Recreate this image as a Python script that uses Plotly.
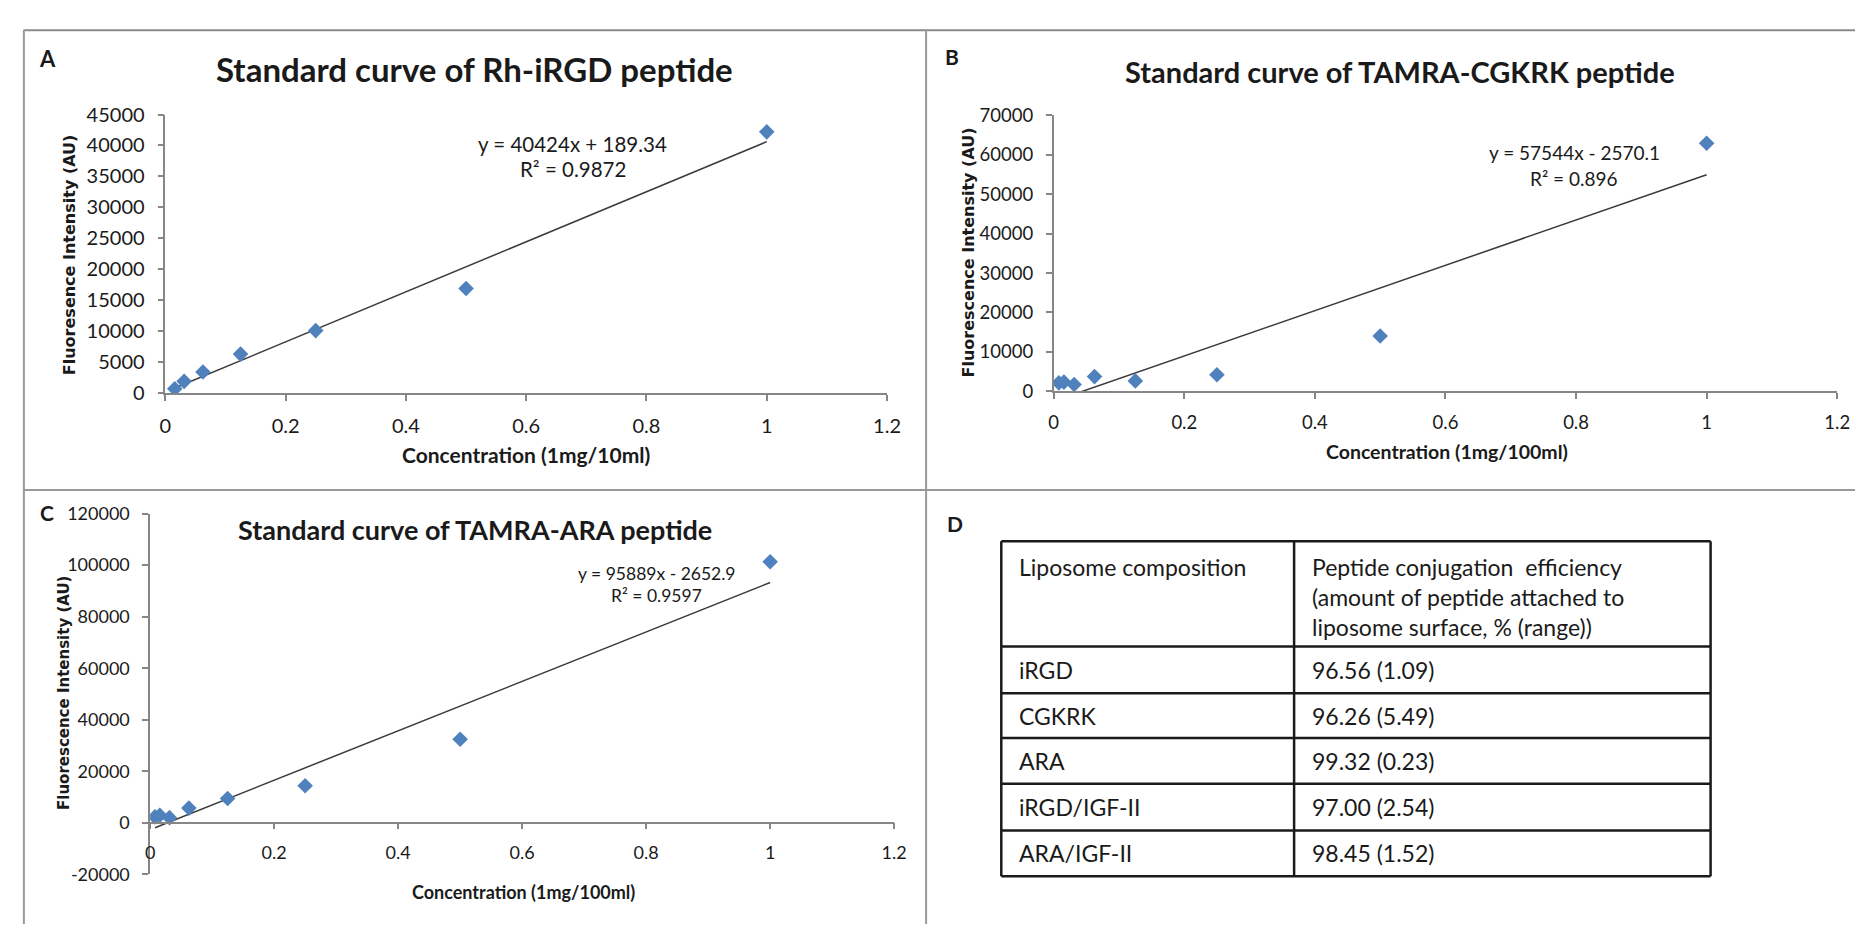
import plotly.graph_objects as go

W, H = 1863, 927

# ---------------- data ----------------
conc_A = [0.015625, 0.03125, 0.0625, 0.125, 0.25, 0.5, 1.0]
fluor_A = [700, 1900, 3400, 6300, 10100, 16900, 42200]
slope_A, intercept_A = 40424, 189.34
r2_A = 0.9872
y_ticks_A = [0, 5000, 10000, 15000, 20000, 25000, 30000, 35000, 40000, 45000]

conc_B = [0.0078125, 0.015625, 0.03125, 0.0625, 0.125, 0.25, 0.5, 1.0]
fluor_B = [2100, 2300, 1700, 3700, 2600, 4150, 14000, 62950]
slope_B, intercept_B = 57544, -2570.1
r2_B = 0.896
y_ticks_B = [0, 10000, 20000, 30000, 40000, 50000, 60000, 70000]

conc_C = [0.0078125, 0.015625, 0.03125, 0.0625, 0.125, 0.25, 0.5, 1.0]
fluor_C = [2300, 2900, 2000, 5700, 9400, 14400, 32400, 101300]
slope_C, intercept_C = 95889, -2652.9
r2_C = 0.9597
y_ticks_C = [-20000, 0, 20000, 40000, 60000, 80000, 100000, 120000]

x_ticks = [0, 0.2, 0.4, 0.6, 0.8, 1, 1.2]
x_tick_labels = ["0", "0.2", "0.4", "0.6", "0.8", "1", "1.2"]

table_header = ["Liposome composition",
                "Peptide conjugation\u00a0 efficiency<br>(amount of peptide attached to<br>liposome surface, % (range))"]
table_col1 = ["iRGD", "CGKRK", "ARA", "iRGD/IGF-II", "ARA/IGF-II"]
table_col2 = ["96.56 (1.09)", "96.26 (5.49)", "99.32 (0.23)", "97.00 (2.54)", "98.45 (1.52)"]

# ---------------- helpers ----------------
def px(x):
    return x / W

def py(y):
    return 1 - y / H

FONT = "Lato, Liberation Sans, Arial, sans-serif"
YT_FONT = "DejaVu Sans, Verdana, sans-serif"
MARK = "#4F81BD"
AXC = "#868686"
TXT = "#1a1a1a"

fig = go.Figure()

panels = [
    dict(key="", xs=conc_A, ys=fluor_A, m=slope_A, b=intercept_A),
    dict(key="2", xs=conc_B, ys=fluor_B, m=slope_B, b=intercept_B),
    dict(key="3", xs=conc_C, ys=fluor_C, m=slope_C, b=intercept_C),
]

for p in panels:
    xa = "x" + p["key"]
    ya = "y" + p["key"]
    xs = p["xs"]
    x_line = [min(xs), max(xs)]
    y_line = [p["m"] * v + p["b"] for v in x_line]
    fig.add_trace(go.Scatter(x=x_line, y=y_line, mode="lines",
                             line=dict(color="#3a3a3a", width=1.5),
                             xaxis=xa, yaxis=ya, showlegend=False, hoverinfo="skip"))
    fig.add_trace(go.Scatter(x=xs, y=p["ys"], mode="markers",
                             marker=dict(symbol="diamond", size=12, color=MARK,
                                         line=dict(width=0)),
                             xaxis=xa, yaxis=ya, showlegend=False))

def xaxis_cfg(dom, anchor, tsize, position=None):
    d = dict(domain=dom, range=[0, 1.2], tickvals=x_ticks, ticktext=x_tick_labels,
             showline=True, linecolor=AXC, linewidth=1.5, ticks="outside",
             ticklen=6, tickcolor=AXC, tickwidth=1.5, showgrid=False, zeroline=False,
             tickfont=dict(family=FONT, size=tsize, color=TXT),
             ticklabelstandoff=8, fixedrange=True)
    if position is not None:
        d["anchor"] = "free"
        d["position"] = position
    else:
        d["anchor"] = anchor
    return d

def yaxis_cfg(dom, anchor, ticks, tsize):
    return dict(domain=dom, anchor=anchor, range=[ticks[0], ticks[-1]],
                tickvals=ticks, ticktext=[str(t) for t in ticks],
                showline=True, linecolor=AXC, linewidth=1.5, ticks="outside",
                ticklen=6, tickcolor=AXC, tickwidth=1.5, showgrid=False, zeroline=False,
                tickfont=dict(family=FONT, size=tsize, color=TXT),
                ticklabelstandoff=9, fixedrange=True)

fig.update_layout(
    xaxis=xaxis_cfg([px(153), px(882.5)], "y", 20),
    yaxis=yaxis_cfg([py(382), py(96)], "x", y_ticks_A, 20),
    xaxis2=xaxis_cfg([px(1051), px(1843)], "y2", 18.5),
    yaxis2=yaxis_cfg([py(380), py(97)], "x2", y_ticks_B, 18.5),
    xaxis3=xaxis_cfg([px(137.6), px(889.7)], "y3", 18, position=py(823)),
    yaxis3=yaxis_cfg([py(876), py(505.7)], "x3", y_ticks_C, 18),
)

# ---------------- text ----------------
ann = []
def add_text(text, x, y, size, bold=False, family=FONT, angle=0, color=TXT, xanchor="center"):
    ann.append(dict(text=("<b>%s</b>" % text) if bold else text, x=px(x), y=py(y),
                    xref="paper", yref="paper", showarrow=False, textangle=angle,
                    xanchor=xanchor, yanchor="middle", align="left",
                    font=dict(family=family, size=size, color=color)))

add_text("A", 34, 38, 22, True)
add_text("B", 948, 36, 21, True)
add_text("C", 33, 505, 21, True)
add_text("D", 951, 516, 21, True)

add_text("Standard curve of Rh-iRGD peptide", 465, 49, 33, True)
add_text("Standard curve of TAMRA-CGKRK peptide", 1401, 52, 29, True)
add_text("Standard curve of TAMRA-ARA peptide", 465.6, 521.7, 27, True)

add_text("Concentration (1mg/10ml)", 518, 445, 21, True)
add_text("Concentration (1mg/100ml)", 1449, 442, 19.5, True)
add_text("Concentration (1mg/100ml)", 514.6, 894, 18, True)

add_text("Fluoresence Intensity (AU)", 56, 240, 16, True, YT_FONT, -90)
add_text("Fluorescence Intensity (AU)", 965, 238, 16, True, YT_FONT, -90)
add_text("Fluorescence Intensity (AU)", 50.4, 690, 15, True, YT_FONT, -90)

def eq_text(m, b):
    sign = "+" if b >= 0 else "-"
    return "y = %dx %s %s" % (m, sign, ("%g" % abs(b)))

add_text(eq_text(slope_A, intercept_A), 565, 126, 20.5)
add_text("R² = %g" % r2_A, 565, 152, 20.5)
add_text(eq_text(slope_B, intercept_B), 1577, 135, 19)
add_text("R² = %g" % r2_B, 1577, 162, 19)
add_text(eq_text(slope_C, intercept_C), 649.6, 567, 17.5)
add_text("R² = %g" % r2_C, 649, 590, 17.5)

# ---------------- table (panel D) ----------------
tbl_left, tbl_mid, tbl_right = 998, 1294, 1715
row_edges = [534, 642, 690, 736, 783, 831, 878]
TFS = 23
shapes = []
TL = dict(color="#1a1a1a", width=2.5)
for yy in row_edges:
    shapes.append(dict(type="line", xref="paper", yref="paper",
                       x0=px(tbl_left), x1=px(tbl_right), y0=py(yy), y1=py(yy), line=TL))
for xx in (tbl_left, tbl_mid, tbl_right):
    shapes.append(dict(type="line", xref="paper", yref="paper",
                       x0=px(xx), x1=px(xx), y0=py(row_edges[0]), y1=py(row_edges[-1]), line=TL))

ann.append(dict(text=table_header[0], x=px(tbl_left + 16), y=py(row_edges[0] + 10),
                xref="paper", yref="paper", showarrow=False, xanchor="left", yanchor="top",
                align="left", font=dict(family=FONT, size=TFS, color=TXT)))
ann.append(dict(text=table_header[1], x=px(tbl_mid + 16), y=py(row_edges[0] + 10),
                xref="paper", yref="paper", showarrow=False, xanchor="left", yanchor="top",
                align="left", font=dict(family=FONT, size=TFS, color=TXT)))
for i, (a, b) in enumerate(zip(table_col1, table_col2)):
    yc = (row_edges[i + 1] + row_edges[i + 2]) / 2
    add_text(a, tbl_left + 16, yc, TFS, xanchor="left")
    add_text(b, tbl_mid + 16, yc, TFS, xanchor="left")

# ---------------- panel frame lines ----------------
LC = "#9a9a9a"
shapes += [
    dict(type="line", xref="paper", yref="paper", x0=px(10), x1=1, y0=py(9.5), y1=py(9.5), line=dict(color="#8a8a8a", width=2)),
    dict(type="line", xref="paper", yref="paper", x0=px(10), x1=px(10), y0=py(9), y1=0, line=dict(color=LC, width=2)),
    dict(type="line", xref="paper", yref="paper", x0=px(922), x1=px(922), y0=py(9), y1=0, line=dict(color=LC, width=2)),
    dict(type="line", xref="paper", yref="paper", x0=px(10), x1=1, y0=py(481.5), y1=py(481.5), line=dict(color=LC, width=2)),
]

fig.update_layout(
    width=W, height=H, margin=dict(l=0, r=0, t=0, b=0),
    paper_bgcolor="white", plot_bgcolor="white",
    annotations=ann, shapes=shapes, showlegend=False,
)

fig.write_html("out.html")
